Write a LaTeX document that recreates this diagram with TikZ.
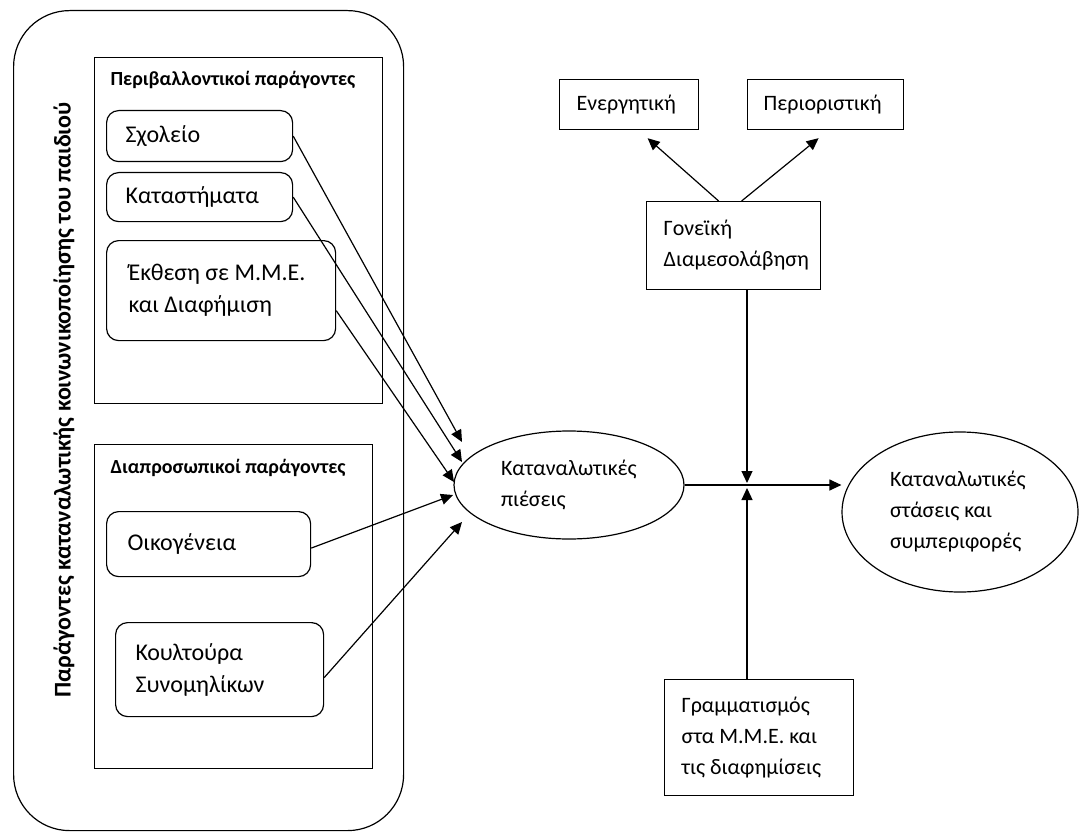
\documentclass[tikz,border=0pt]{standalone}
\usepackage{fontspec}
\setmainfont{Carlito}
\usetikzlibrary{arrows.meta,shapes.geometric}
\tikzset{
  txt/.style={font=\fontsize{12}{16}\selectfont},
  stxt/.style={font=\fontsize{11}{15.5}\selectfont},
  every node/.style={execute at begin node={\spaceskip=0pt\xspaceskip=0pt}},
  rbox/.style={draw, rounded corners=6pt, anchor=north west, align=left, inner ysep=0pt, txt},
  sbox/.style={draw, anchor=north west, align=left, inner ysep=0pt, stxt},
  frame/.style={draw, anchor=north west, inner sep=0pt},
  title/.style={anchor=west, inner sep=0pt, font=\fontsize{10}{12}\selectfont\bfseries},
  oval/.style={draw, ellipse, inner sep=0pt, align=left, stxt},
  arr/.style={-{Triangle[length=6pt,width=5.5pt]}},
}
\begin{document}
\begin{tikzpicture}[x=0.5pt,y=-0.5pt,line width=0.6pt]
 \useasboundingbox (0,0) rectangle (1079,834);
 \node[frame, rounded corners=28pt, minimum width=195pt, minimum height=410pt] (outer) at (13,10) {};
 \node[rotate=90, font=\fontsize{12}{14}\selectfont\bfseries] (maintitle) at (64,400) {Παράγοντες καταναλωτικής κοινωνικοποίησης του παιδιού};
 \node[frame, minimum width=144pt, minimum height=173pt] (envframe) at (94,57) {};
 \node[title] (envtitle) at (110,80) {Περιβαλλοντικοί παράγοντες};
 \node[frame, minimum width=139pt, minimum height=162pt] (interframe) at (94,444) {};
 \node[title] (intertitle) at (110,468) {Διαπροσωπικοί παράγοντες};
 \node[rbox, inner xsep=9.5pt, text width=74pt, minimum height=25.5pt] (sxoleio) at (106,110) {Σχολείο};
 \node[rbox, inner xsep=9.5pt, text width=74pt, minimum height=24.5pt] (katast) at (106,172) {Καταστήματα};
 \node[rbox, inner xsep=11pt, text width=92.5pt, minimum height=50pt] (ekthesi) at (106,240) {Έκθεση σε Μ.Μ.Ε.\\και Διαφήμιση};
 \node[rbox, inner xsep=10.5pt, text width=81pt, minimum height=32.5pt] (oikog) at (106,511) {Οικογένεια};
 \node[rbox, inner xsep=10pt, text width=84pt, minimum height=47pt] (koult) at (115,622) {Κουλτούρα\\Συνομηλίκων};
 \node[sbox, inner xsep=8.5pt, text width=52.5pt, minimum height=25pt] (energ) at (559,79) {Ενεργητική};
 \node[sbox, inner xsep=8pt, text width=62pt, minimum height=25pt] (perior) at (747,79) {Περιοριστική};
 \node[sbox, inner xsep=8.5pt, text width=70pt, minimum height=44pt] (goneiki) at (646,201) {Γονεϊκή\\Διαμεσολάβηση};
 \node[sbox, inner xsep=8.5pt, text width=77.5pt, minimum height=58pt] (gramm) at (664,679) {Γραμματισμός\\στα Μ.Μ.Ε. και\\τις διαφημίσεις};
 \node[oval, minimum width=115pt, minimum height=54pt, text width=68pt] (pies) at (569,485) {Καταναλωτικές\\πιέσεις};
 \node[oval, minimum width=118pt, minimum height=80pt, text width=70pt] (stasis) at (960,512) {Καταναλωτικές\\στάσεις και\\συμπεριφορές};
 \coordinate (t1) at (462,442);
 \coordinate (t2) at (462,462);
 \coordinate (t3) at (454,482);
 \coordinate (t4) at (453,495);
 \coordinate (t5) at (462,522);
 \coordinate (cross) at (747,486);
 \draw[arr] (sxoleio.east) -- (t1);
 \draw[arr] (katast.east) -- (t2);
 \draw[arr] ([yshift=-10pt]ekthesi.east) -- (t3);
 \draw[arr] ([yshift=-2pt]oikog.east) -- (t4);
 \draw[arr] ([yshift=-4pt]koult.east) -- (t5);
 \draw[arr] ([xshift=-7.5pt]goneiki.north) -- ([xshift=9.25pt,yshift=-4pt]energ.south);
 \draw[arr] ([xshift=4pt]goneiki.north) -- ([xshift=-3.5pt,yshift=-4pt]perior.south);
 \draw[arr] (pies.east) -- (pies.east -| stasis.west);
 \draw[arr] (goneiki.south -| cross) -- ([yshift=1.5pt]cross);
 \draw[arr] (gramm.north -| cross) -- ([yshift=-1pt]cross);
\end{tikzpicture}
\end{document}
